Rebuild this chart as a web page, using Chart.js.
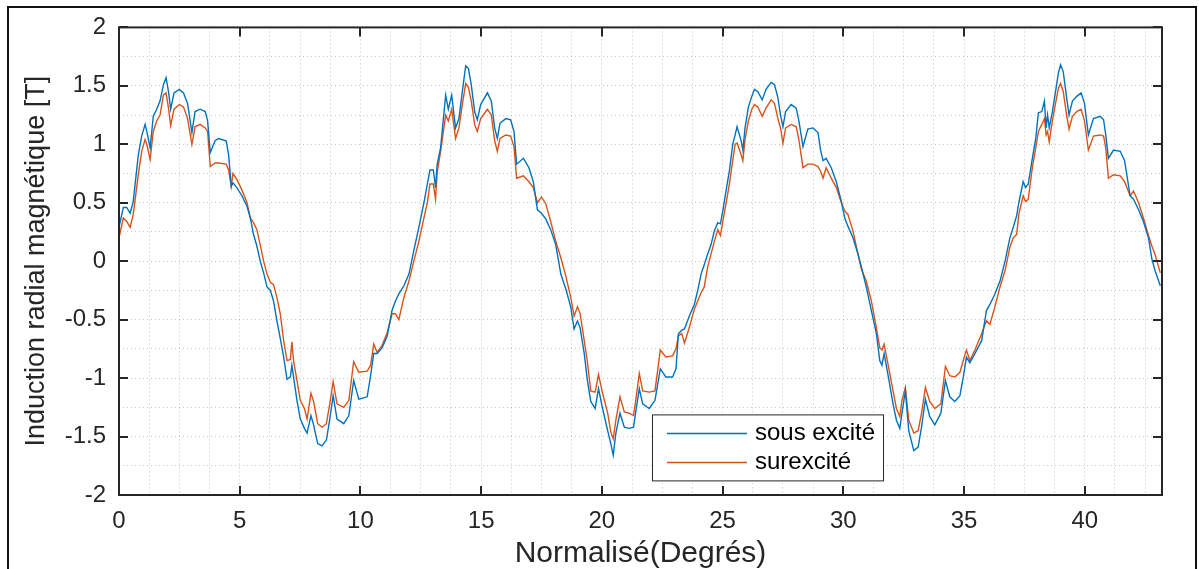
<!DOCTYPE html>
<html>
<head>
<meta charset="utf-8">
<script src="https://cdn.jsdelivr.net/npm/chart.js@4.4.1/dist/chart.umd.min.js"></script>
<style>
  html, body { margin: 0; padding: 0; background: #fff; }
  #wrap { width: 1199px; height: 569px; }
</style>
</head>
<body>
<div id="wrap"><canvas id="chart" width="1199" height="569"></canvas></div>
<script>
// angle positions (normalised degrees)
const angles = [
  0, 0.18, 0.32, 0.46, 0.59, 0.80, 0.94, 1.08, 1.15, 1.29, 1.42, 1.56, 1.70, 1.84, 1.95, 2.05, 2.14, 2.28, 2.50, 2.67,
  2.84, 3.02, 3.15, 3.36, 3.57, 3.67, 3.78, 3.98, 4.12, 4.44, 4.54, 4.65, 4.72, 4.88, 5.09, 5.30, 5.44, 5.57, 5.71, 5.85,
  5.99, 6.13, 6.27, 6.40, 6.54, 6.68, 6.82, 6.96, 7.10, 7.16, 7.23, 7.37, 7.51, 7.68, 7.79, 7.95, 8.06, 8.23, 8.41, 8.59,
  8.73, 8.87, 9.03, 9.31, 9.52, 9.72, 9.93, 10.28, 10.42, 10.55, 10.69, 10.90, 11.11, 11.31,
  11.45, 11.59, 11.80, 12.01, 12.21, 12.42, 12.63, 12.77, 12.88, 13.02, 13.11, 13.18, 13.32, 13.53, 13.64, 13.78, 13.94, 14.08, 14.22, 14.36,
  14.47, 14.59, 14.73, 14.84, 14.98, 15.26, 15.42, 15.56, 15.67, 15.78, 16.02, 16.22, 16.36, 16.47, 16.75, 16.98, 17.16, 17.33, 17.50, 17.68,
  17.88, 18.09, 18.30, 18.51, 18.71, 18.85, 18.99, 19.10, 19.27, 19.40, 19.54, 19.72, 19.86, 20.03, 20.24, 20.37, 20.47, 20.58, 20.75, 20.93,
  21.13, 21.31, 21.41, 21.55, 21.69, 21.96, 22.20, 22.42, 22.65, 22.93, 23.07,
  23.17, 23.31, 23.42, 23.62, 23.83, 23.97, 24.11, 24.24, 24.38, 24.52, 24.66, 24.80, 24.91, 25.01, 25.14, 25.28, 25.42, 25.52, 25.60, 25.77,
  25.84, 25.93, 26.07, 26.21, 26.32, 26.46, 26.64, 26.80, 27.01, 27.15, 27.29, 27.40, 27.50, 27.61, 27.84, 28.05, 28.16, 28.33, 28.53, 28.74,
  28.95, 29.06, 29.16, 29.29, 29.50, 29.71, 29.92, 30.06, 30.19, 30.40, 30.61, 30.75, 30.95, 31.16, 31.37, 31.51, 31.60, 31.69, 31.85, 32.06,
  32.20, 32.34, 32.43, 32.57, 32.71, 32.92, 33.10, 33.24, 33.40, 33.58, 33.79, 34.04, 34.23, 34.41, 34.62, 34.83,
  34.97, 35.10, 35.24, 35.45, 35.73, 35.93, 36.07, 36.28, 36.49, 36.70, 36.90, 37.04, 37.18, 37.27, 37.45, 37.55, 37.66, 37.83, 37.97, 38.08,
  38.22, 38.33, 38.40, 38.46, 38.53, 38.66, 38.79, 38.91, 39.00, 39.11, 39.25, 39.35, 39.49, 39.67, 39.85, 39.99, 40.15, 40.36, 40.64, 40.78,
  40.87, 40.98, 41.19, 41.47, 41.65, 41.88, 42.02, 42.23, 42.43, 42.64, 42.78, 42.91, 43.13
];

// sous excité (blue)
const sousExcite = [
  0.29, 0.46, 0.46, 0.41, 0.51, 0.91, 1.07, 1.17, 1.11, 0.97, 1.24, 1.30, 1.37, 1.51, 1.57, 1.45, 1.30, 1.44, 1.47, 1.44,
  1.35, 1.10, 1.28, 1.30, 1.28, 1.20, 0.93, 1.03, 1.05, 1.03, 0.91, 0.64, 0.67, 0.63, 0.56, 0.47, 0.37, 0.23, 0.13, 0.00,
  -0.10, -0.22, -0.25, -0.34, -0.51, -0.66, -0.82, -1.01, -0.99, -0.89, -0.99, -1.19, -1.35, -1.43, -1.47, -1.32, -1.40, -1.56, -1.58, -1.53,
  -1.35, -1.15, -1.35, -1.39, -1.32, -1.02, -1.18, -1.16, -0.98, -0.79, -0.79, -0.74, -0.64, -0.42,
  -0.34, -0.28, -0.21, -0.11, 0.09, 0.29, 0.50, 0.66, 0.78, 0.78, 0.63, 0.83, 0.97, 1.42, 1.30, 1.42, 1.14, 1.22, 1.45, 1.67,
  1.65, 1.51, 1.28, 1.21, 1.34, 1.44, 1.37, 1.14, 1.05, 1.18, 1.22, 1.21, 1.11, 0.83, 0.88, 0.80, 0.68, 0.44, 0.41, 0.36,
  0.27, 0.14, -0.11, -0.24, -0.39, -0.58, -0.51, -0.57, -0.79, -1.02, -1.20, -1.26, -1.09, -1.26, -1.45, -1.56, -1.66, -1.47, -1.30, -1.42,
  -1.43, -1.42, -1.28, -1.09, -1.22, -1.26, -1.19, -0.92, -0.99, -0.99, -0.92,
  -0.62, -0.59, -0.58, -0.47, -0.37, -0.25, -0.11, -0.03, 0.06, 0.14, 0.26, 0.33, 0.32, 0.43, 0.60, 0.77, 1.00, 1.08, 1.15, 1.03,
  0.95, 1.14, 1.32, 1.41, 1.47, 1.45, 1.38, 1.47, 1.53, 1.51, 1.40, 1.25, 1.15, 1.28, 1.34, 1.31, 1.20, 0.98, 1.13, 1.14,
  1.10, 0.95, 0.86, 0.88, 0.80, 0.68, 0.51, 0.37, 0.30, 0.20, 0.06, -0.05, -0.22, -0.42, -0.62, -0.85, -0.89, -0.79, -0.97, -1.22,
  -1.36, -1.43, -1.30, -1.11, -1.45, -1.62, -1.59, -1.42, -1.18, -1.33, -1.40, -1.30, -1.02, -1.16, -1.20, -1.15,
  -0.99, -0.82, -0.87, -0.79, -0.68, -0.42, -0.37, -0.28, -0.17, 0.00, 0.20, 0.29, 0.39, 0.50, 0.68, 0.63, 0.66, 0.88, 1.05, 1.27,
  1.28, 1.37, 1.14, 1.25, 1.14, 1.28, 1.45, 1.61, 1.68, 1.62, 1.40, 1.25, 1.37, 1.41, 1.44, 1.35, 1.08, 1.22, 1.24, 1.21,
  1.08, 0.88, 0.95, 0.94, 0.86, 0.56, 0.53, 0.44, 0.34, 0.20, 0.02, -0.08, -0.21
];

// surexcité (orange)
const surexcite = [
  0.20, 0.37, 0.34, 0.29, 0.40, 0.74, 0.94, 1.04, 1.00, 0.87, 1.11, 1.20, 1.25, 1.42, 1.44, 1.31, 1.16, 1.30, 1.34, 1.32,
  1.22, 1.00, 1.15, 1.17, 1.14, 1.11, 0.81, 0.84, 0.84, 0.83, 0.78, 0.64, 0.75, 0.70, 0.61, 0.50, 0.37, 0.33, 0.27, 0.14,
  0.00, -0.11, -0.18, -0.20, -0.31, -0.45, -0.68, -0.85, -0.84, -0.69, -0.85, -1.02, -1.19, -1.26, -1.35, -1.13, -1.20, -1.39, -1.42, -1.39,
  -1.22, -1.03, -1.22, -1.25, -1.19, -0.86, -0.95, -0.94, -0.89, -0.71, -0.78, -0.72, -0.61, -0.45,
  -0.45, -0.50, -0.31, -0.17, 0.00, 0.17, 0.37, 0.50, 0.66, 0.66, 0.53, 0.76, 0.94, 1.25, 1.20, 1.30, 1.05, 1.14, 1.34, 1.52,
  1.49, 1.37, 1.17, 1.11, 1.22, 1.30, 1.25, 1.03, 0.94, 1.05, 1.08, 1.07, 0.98, 0.71, 0.73, 0.68, 0.63, 0.50, 0.55, 0.49,
  0.34, 0.17, 0.03, -0.13, -0.31, -0.47, -0.39, -0.45, -0.68, -0.86, -1.11, -1.12, -0.97, -1.13, -1.30, -1.46, -1.52, -1.36, -1.16, -1.29,
  -1.30, -1.32, -1.18, -0.96, -1.11, -1.12, -1.11, -0.76, -0.82, -0.81, -0.75,
  -0.64, -0.62, -0.70, -0.57, -0.41, -0.34, -0.27, -0.22, -0.05, 0.06, 0.17, 0.27, 0.22, 0.34, 0.49, 0.66, 0.86, 1.00, 1.01, 0.91,
  0.86, 1.04, 1.20, 1.30, 1.34, 1.32, 1.24, 1.31, 1.38, 1.35, 1.22, 1.14, 1.01, 1.14, 1.17, 1.15, 1.04, 0.80, 0.83, 0.83,
  0.81, 0.77, 0.71, 0.80, 0.71, 0.63, 0.50, 0.43, 0.40, 0.26, 0.06, -0.07, -0.17, -0.34, -0.57, -0.74, -0.76, -0.71, -0.88, -1.11,
  -1.26, -1.33, -1.19, -1.08, -1.36, -1.47, -1.45, -1.30, -1.08, -1.20, -1.26, -1.22, -0.90, -0.98, -0.99, -0.95,
  -0.85, -0.76, -0.85, -0.76, -0.62, -0.51, -0.54, -0.39, -0.22, -0.08, 0.12, 0.20, 0.23, 0.40, 0.56, 0.51, 0.53, 0.80, 0.97, 1.11,
  1.17, 1.22, 1.08, 1.11, 1.02, 1.20, 1.35, 1.48, 1.52, 1.45, 1.25, 1.13, 1.24, 1.28, 1.30, 1.20, 0.95, 1.07, 1.08, 1.07,
  0.97, 0.71, 0.74, 0.73, 0.68, 0.56, 0.60, 0.50, 0.37, 0.22, 0.13, 0.06, -0.10
];

const seriesNames = ['sous excité', 'surexcité'];
const seriesColors = ['#0072BD', '#D95319'];

const xRange = [0, 43.2];
const yRange = [-2, 2];
const xLabelStep = 5, xGridStep = 1.25;
const yLabelStep = 0.5, yGridStep = 0.25;

const FONT = '"Liberation Sans", Arial, Helvetica, sans-serif';
const INK = '#262626';
Chart.defaults.font.family = FONT;
Chart.defaults.color = INK;

const isMultiple = (v, step) => Math.abs(v / step - Math.round(v / step)) < 1e-6;

// MATLAB-like box with inward major ticks
const boxPlugin = {
  id: 'matlabBox',
  afterDatasetsDraw(chart) {
    const { ctx, chartArea: a, scales: { x, y } } = chart;
    ctx.save();
    ctx.strokeStyle = INK;
    ctx.lineWidth = 2;
    ctx.strokeRect(a.left, a.top, a.right - a.left, a.bottom - a.top);
    const tl = 9;
    ctx.beginPath();
    x.ticks.forEach(t => {
      if (!isMultiple(t.value, xLabelStep)) return;
      const px = Math.round(x.getPixelForValue(t.value));
      ctx.moveTo(px, a.bottom); ctx.lineTo(px, a.bottom - tl);
      ctx.moveTo(px, a.top); ctx.lineTo(px, a.top + tl);
    });
    y.ticks.forEach(t => {
      if (!isMultiple(t.value, yLabelStep)) return;
      const py = Math.round(y.getPixelForValue(t.value));
      ctx.moveTo(a.left, py); ctx.lineTo(a.left + tl, py);
      ctx.moveTo(a.right, py); ctx.lineTo(a.right - tl, py);
    });
    ctx.stroke();
    ctx.restore();
  }
};

// legend box inside the axes, bottom middle
const legendPlugin = {
  id: 'insideLegend',
  afterDatasetsDraw(chart) {
    const { ctx, chartArea: a } = chart;
    const bx = a.left + 533, by = a.top + 387, bw = 231, bh = 66;
    ctx.save();
    ctx.fillStyle = '#fff';
    ctx.fillRect(bx, by, bw, bh);
    ctx.strokeStyle = INK;
    ctx.lineWidth = 1;
    ctx.strokeRect(bx + 0.5, by + 0.5, bw, bh);
    ctx.font = '24px ' + FONT;
    ctx.textBaseline = 'middle';
    chart.data.datasets.forEach((ds, i) => {
      const ry = by + 19 + i * 29;
      ctx.strokeStyle = ds.borderColor;
      ctx.lineWidth = 1.5;
      ctx.beginPath();
      ctx.moveTo(bx + 15, ry); ctx.lineTo(bx + 95, ry);
      ctx.stroke();
      ctx.fillStyle = '#000';
      ctx.fillText(ds.label, bx + 103, ry);
    });
    ctx.restore();
  }
};

// figure frame around the whole picture
const framePlugin = {
  id: 'frame',
  afterDraw(chart) {
    const { ctx, width, height } = chart;
    ctx.save();
    ctx.strokeStyle = '#111';
    ctx.lineWidth = 2;
    ctx.beginPath();
    ctx.moveTo(8, height); ctx.lineTo(8, 7); ctx.lineTo(width - 3, 7); ctx.lineTo(width - 3, height);
    ctx.stroke();
    ctx.restore();
  }
};

new Chart(document.getElementById('chart'), {
  type: 'line',
  data: {
    datasets: [sousExcite, surexcite].map((vals, i) => ({
      label: seriesNames[i],
      data: angles.map((a, k) => ({ x: a, y: vals[k] })),
      borderColor: seriesColors[i],
      borderWidth: 1.4,
      pointRadius: 0,
      tension: 0,
      fill: false
    }))
  },
  options: {
    responsive: false,
    animation: false,
    devicePixelRatio: 1,
    layout: { padding: { left: 10, right: 37, top: 26, bottom: 0 } },
    plugins: { legend: { display: false }, tooltip: { enabled: false } },
    scales: {
      x: {
        type: 'linear',
        min: xRange[0],
        max: xRange[1],
        afterFit: s => { s.height = 74; },
        ticks: {
          stepSize: xGridStep,
          includeBounds: false,
          autoSkip: false,
          maxRotation: 0,
          maxTicksLimit: 100,
          padding: 12,
          color: INK,
          font: { size: 24 },
          callback: v => isMultiple(v, xLabelStep) ? String(Math.round(v)) : ''
        },
        grid: { color: 'rgba(0,0,0,0.22)', lineWidth: 1, drawTicks: false },
        border: { display: false, dash: [1, 3] },
        title: {
          display: true,
          text: 'Normalisé(Degrés)',
          color: INK,
          font: { size: 30, lineHeight: 1.0 },
          padding: { top: 0, bottom: 0 }
        }
      },
      y: {
        type: 'linear',
        min: yRange[0],
        max: yRange[1],
        afterFit: s => { s.width = 109; },
        ticks: {
          stepSize: yGridStep,
          autoSkip: false,
          maxTicksLimit: 100,
          padding: 13,
          color: INK,
          font: { size: 24 },
          callback: v => isMultiple(v, yLabelStep) ? String(Number(v.toFixed(2))) : ''
        },
        grid: { color: 'rgba(0,0,0,0.22)', lineWidth: 1, drawTicks: false },
        border: { display: false, dash: [1, 3] },
        title: {
          display: true,
          text: 'Induction radial magnétique [T]',
          color: INK,
          font: { size: 27 },
          padding: { top: 10, bottom: 0 }
        }
      }
    }
  },
  plugins: [boxPlugin, legendPlugin, framePlugin]
});
</script>
</body>
</html>
